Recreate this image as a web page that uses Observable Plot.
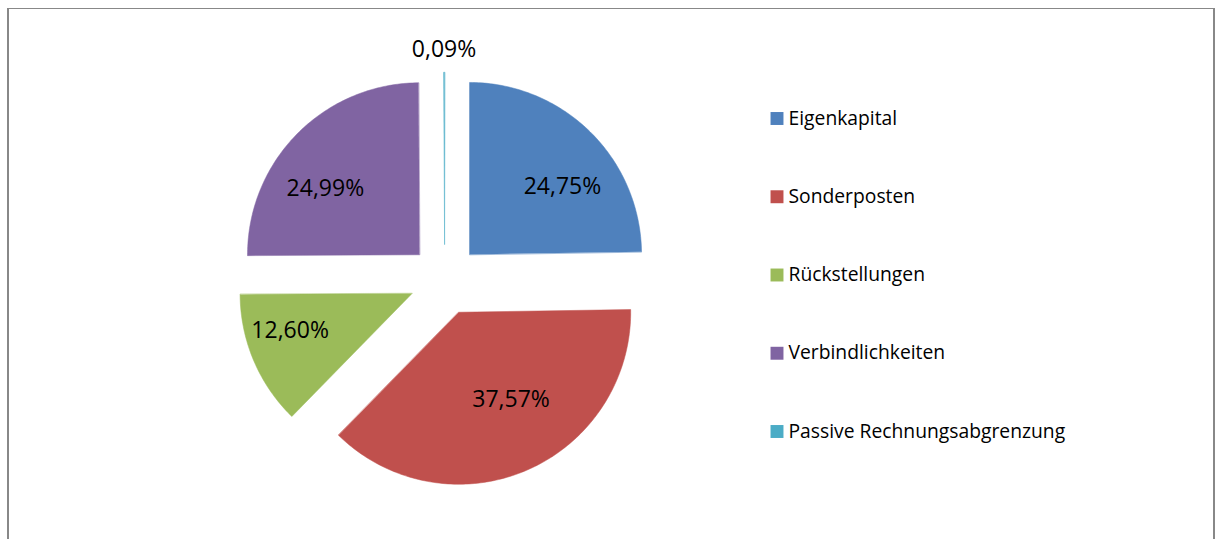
<!DOCTYPE html>
<html>
<head>
<meta charset="utf-8">
<script src="https://cdn.jsdelivr.net/npm/d3@7"></script>
<script src="https://cdn.jsdelivr.net/npm/@observablehq/plot@0.6"></script>
<style>
  html, body { margin: 0; padding: 0; background: #fff; }
  #wrap { position: relative; width: 1219px; height: 539px; overflow: hidden; }
  #frame { position: absolute; left: 7px; top: 8px; width: 1208px; height: 600px;
           border: 2px solid #888; border-top-width: 1.5px; pointer-events: none; box-sizing: border-box; }
  #chart { position: absolute; left: 0; top: 0; }
</style>
</head>
<body>
<div id="wrap"><div id="chart"></div><div id="frame"></div></div>
<script>
// ---- data ----
const categories = ["Eigenkapital", "Sonderposten", "Rückstellungen", "Verbindlichkeiten", "Passive Rechnungsabgrenzung"];
const shares = [24.75, 37.57, 12.60, 24.99, 0.09];
const labels = ["24,75%", "37,57%", "12,60%", "24,99%", "0,09%"];
const colors = ["#4F81BD", "#C0504D", "#9BBB59", "#8064A2", "#4BACC6"];

// ---- layout (pixels) ----
const W = 1219, H = 539;
const cx = 444.2, cy = 279.2, Rpx = 172;   // pie centre and radius
const explode = 0.206;                      // explosion distance (fraction of radius)
const labelRx = 0.77, labelRy = 0.55, outsideLabelR = 1.13;
const legendSwatchX = 776.5, legendTextX = 788, legendY0 = 118, legendDY = 78.25;

const ux = px => (px - cx) / Rpx;
const uy = py => (cy - py) / Rpx;

// ---- geometry from data ----
const total = d3.sum(shares);
const polys = [];
const labelPts = [];
let acc = 0;
categories.forEach((name, i) => {
  const a0 = acc / total * 2 * Math.PI;
  acc += shares[i];
  const a1 = acc / total * 2 * Math.PI;
  const mid = (a0 + a1) / 2;
  const ox = explode * Math.sin(mid), oy = explode * Math.cos(mid);
  polys.push({name, x: ox, y: oy});
  const n = Math.max(2, Math.ceil((a1 - a0) / (Math.PI / 180)));
  for (let k = 0; k <= n; k++) {
    const a = a0 + (a1 - a0) * k / n;
    polys.push({name, x: ox + Math.sin(a), y: oy + Math.cos(a)});
  }
  const inside = shares[i] / total >= 0.01;
  const rx = inside ? labelRx : outsideLabelR, ry = inside ? labelRy : outsideLabelR;
  labelPts.push({label: labels[i], x: ox + rx * Math.sin(mid), y: oy + ry * Math.cos(mid)});
});
const legend = categories.map((name, i) => ({
  name, sx: ux(legendSwatchX), tx: ux(legendTextX), y: uy(legendY0 + i * legendDY)
}));

const chart = Plot.plot({
  width: W, height: H, margin: 0,
  x: {domain: [ux(0), ux(W)], axis: null},
  y: {domain: [uy(H), uy(0)], axis: null},
  color: {domain: categories, range: colors},
  style: {fontFamily: "'Open Sans', sans-serif", background: "transparent", color: "#000"},
  marks: [
    Plot.line(polys, {x: "x", y: "y", z: "name", fill: "name", stroke: "name", strokeWidth: 0.5, curve: "linear-closed"}),
    Plot.text(labelPts, {x: "x", y: "y", text: "label", fontSize: 23, fill: "#000"}),
    Plot.dot(legend, {x: "sx", y: "y", symbol: "square", r: 7.3, fill: "name", stroke: null}),
    Plot.text(legend, {x: "tx", y: "y", text: "name", textAnchor: "start", fontSize: 19.3, fill: "#000"})
  ]
});
document.getElementById("chart").appendChild(chart);
</script>
</body>
</html>
